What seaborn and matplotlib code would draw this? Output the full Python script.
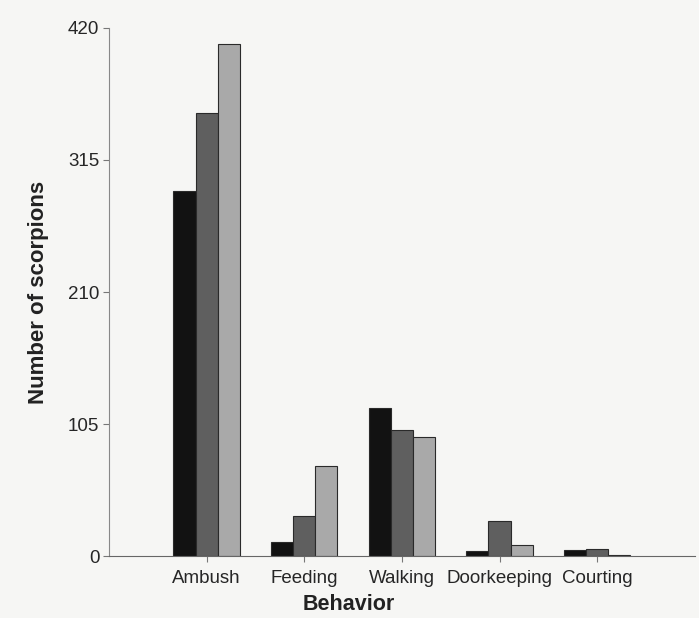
import pandas as pd
import seaborn as sns
import matplotlib.pyplot as plt

# values
behaviors = ['Ambush', 'Feeding', 'Walking', 'Doorkeeping', 'Courting']
groups = ['Group 1', 'Group 2', 'Group 3']
group1 = [290, 11, 118, 4, 5]
group2 = [352, 32, 100, 28, 6]
group3 = [407, 72, 95, 9, 1]
yticks = [0, 105, 210, 315, 420]

rows = []
for g, vals in zip(groups, [group1, group2, group3]):
    for b, v in zip(behaviors, vals):
        rows.append({'Behavior': b, 'group': g, 'count': v})
df = pd.DataFrame(rows)

sns.set_style('white')
plt.rcParams['font.family'] = ['Liberation Sans', 'DejaVu Sans']

fig = plt.figure(figsize=(6.99, 6.18), dpi=100, facecolor='#f6f6f4')
ax = fig.add_axes([0.156, 0.1, 0.838, 0.855])
ax.set_facecolor('#f6f6f4')

palette = ['#121212', '#5f5f5f', '#a9a9a9']
sns.barplot(data=df, x='Behavior', y='count', hue='group', palette=palette,
            width=0.68, gap=0, edgecolor='#2a2a2a', linewidth=0.8,
            saturation=1, legend=False, ax=ax)

ax.set_xlim(-1, 5)
ax.set_ylim(0, 420)
ax.set_yticks(yticks)
ax.set_yticklabels([str(t) for t in yticks])

for s in ['top', 'right']:
    ax.spines[s].set_visible(False)
ax.spines['left'].set_color('#888888')
ax.spines['left'].set_linewidth(0.8)
ax.spines['bottom'].set_color('#666666')
ax.spines['bottom'].set_linewidth(0.8)

ax.tick_params(axis='y', left=True, length=4, width=0.8, color='#777777',
               labelsize=13.5, pad=3)
ax.tick_params(axis='x', bottom=True, length=4, width=0.8, color='#777777',
               labelsize=13.5, pad=6)

ax.set_xlabel('Behavior', fontsize=15.5, fontweight='bold', color='#222222')
ax.set_ylabel('Number of scorpions', fontsize=16, fontweight='bold', color='#222222',
              labelpad=14)
ax.xaxis.set_label_coords(0.41, -0.072)

fig.savefig('out.png', dpi=100, facecolor=fig.get_facecolor())
